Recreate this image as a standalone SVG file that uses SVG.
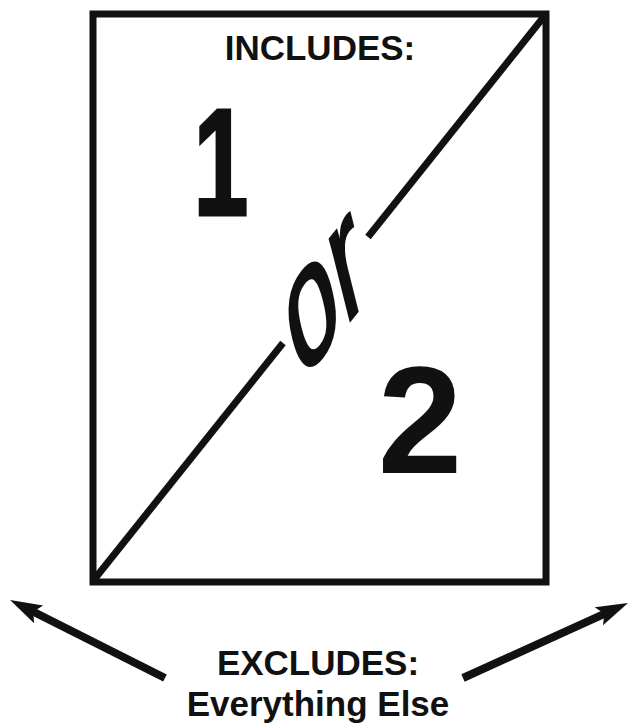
<svg xmlns="http://www.w3.org/2000/svg" width="631" height="726" viewBox="0 0 631 726">
  <style>
    .ink { fill: #111; }
    .stroke { stroke: #111; fill: none; }
    .bold { font-family: "Liberation Sans", Arial, sans-serif; font-weight: bold; fill: #111; }
    .reg { font-family: "Liberation Sans", Arial, sans-serif; fill: #111; }
  </style>
  <defs>
    <marker id="head" markerUnits="userSpaceOnUse" markerWidth="40" markerHeight="24" refX="12" refY="10" orient="auto" overflow="visible">
      <path d="M32,10 L0,0 L6,10 L0,20 Z" class="ink"/>
    </marker>
  </defs>
  <rect width="631" height="726" fill="#fff"/>

  <g id="box">
    <rect x="93" y="14" width="453" height="568" class="stroke" stroke-width="7"/>
    <text x="320" y="60" class="bold" font-size="35" text-anchor="middle">INCLUDES:</text>
    <text x="0" y="0" class="bold" font-size="152" text-anchor="middle" stroke="#111" stroke-width="3" transform="translate(221,215) scale(0.65,1)">1</text>
    <text x="420" y="473" class="bold" font-size="152" text-anchor="middle">2</text>
  </g>

  <g id="or">
    <text class="reg" font-size="100" stroke="#111" stroke-width="2.2" transform="matrix(0.806,-1.006,0.383,1.533,300,383)">or</text>
  </g>

  <g id="connectors">
    <line x1="93" y1="581" x2="283" y2="343" class="stroke" stroke-width="7"/>
    <line x1="368" y1="237" x2="546" y2="14" class="stroke" stroke-width="7"/>
    <line x1="165" y1="678" x2="27.9" y2="609" class="stroke" stroke-width="8" marker-end="url(#head)"/>
    <line x1="463" y1="678" x2="609.8" y2="611.3" class="stroke" stroke-width="8" marker-end="url(#head)"/>
  </g>

  <g id="excludes">
    <text x="318" y="675" class="bold" font-size="35" text-anchor="middle">EXCLUDES:</text>
    <text x="318" y="716" class="bold" font-size="35" text-anchor="middle">Everything Else</text>
  </g>
</svg>
